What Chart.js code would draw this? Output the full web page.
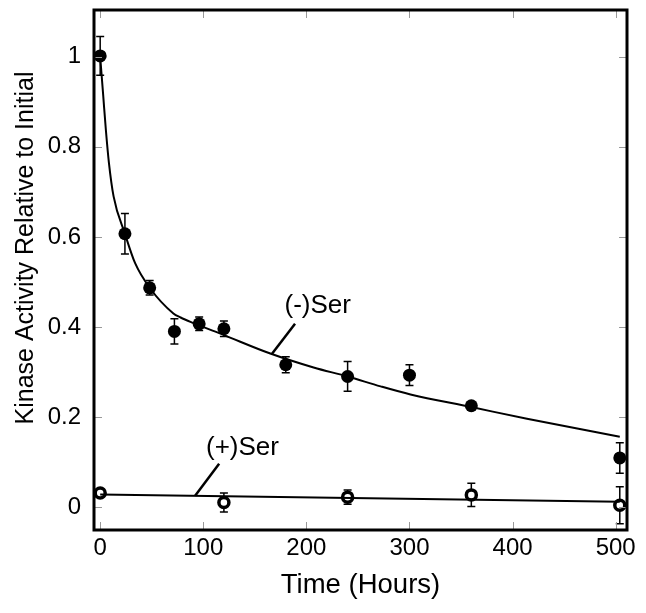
<!DOCTYPE html>
<html>
<head>
<meta charset="utf-8">
<script src="https://cdn.jsdelivr.net/npm/chart.js@4"></script>
<style>
  html, body { margin: 0; padding: 0; background: #fff; }
  #wrap { width: 646px; height: 613px; }
</style>
</head>
<body>
<div id="wrap"><canvas id="kinaseChart"></canvas></div>
<script>
// measured points, (-)Ser
const hours = [0, 24, 48, 72, 96, 120, 180, 240, 300, 360, 504];
const minusSer = [1.002, 0.607, 0.487, 0.390, 0.407, 0.396, 0.316, 0.290, 0.293, 0.225, 0.109];
const minusSerErr = [0.043, 0.045, 0.016, 0.028, 0.015, 0.017, 0.018, 0.033, 0.023, 0.005, 0.034];

// measured points, (+)Ser
const plusHours = [0, 120, 240, 360, 504];
const plusSer = [0.031, 0.010, 0.022, 0.027, 0.004];
const plusSerErr = [0.004, 0.021, 0.016, 0.026, 0.041];

// fitted curves
const fitHours = [0, 3, 5.5, 8.5, 13, 24, 34, 48, 71, 78, 90, 120, 165, 207, 240, 272, 301, 360, 414, 504];
const fitMinus = [1.0, 0.912, 0.838, 0.764, 0.690, 0.607, 0.541, 0.487, 0.430, 0.421, 0.409, 0.382, 0.341, 0.310, 0.290, 0.268, 0.250, 0.222, 0.196, 0.156];
const fitPlusHours = [0, 504];
const fitPlus = [0.028, 0.012];

// axis ticks
const xTicks = [0, 100, 200, 300, 400, 500];
const yTicks = [0, 0.2, 0.4, 0.6, 0.8, 1];

// labels with leader lines: text position, line start, line end (data units)
const labels = [
  { text: '(-)Ser', at: [211, 0.447], from: [189, 0.407], to: [166.5, 0.340] },
  { text: '(+)Ser', at: [138, 0.131], from: [115.4, 0.096], to: [92.1, 0.025] }
];

const FONT = "'Liberation Sans', Arial, Helvetica, sans-serif";

function pts(xs, ys) {
  return xs.map((x, i) => ({ x: x, y: ys[i] }));
}

// error bars, drawn under the markers
const errorBars = {
  id: 'errorBars',
  beforeDatasetsDraw(chart) {
    const { ctx, scales: { x, y } } = chart;
    const sets = [[hours, minusSer, minusSerErr], [plusHours, plusSer, plusSerErr]];
    ctx.save();
    ctx.strokeStyle = '#000';
    ctx.lineWidth = 1.5;
    sets.forEach(([xs, ys, es]) => {
      xs.forEach((h, i) => {
        const px = x.getPixelForValue(h);
        const top = y.getPixelForValue(ys[i] + es[i]);
        const bot = y.getPixelForValue(ys[i] - es[i]);
        ctx.beginPath();
        ctx.moveTo(px, top); ctx.lineTo(px, bot);
        ctx.moveTo(px - 4, top); ctx.lineTo(px + 4, top);
        ctx.moveTo(px - 4, bot); ctx.lineTo(px + 4, bot);
        ctx.stroke();
      });
    });
    ctx.restore();
  }
};

// box frame, inward ticks, y title, curve labels
const frame = {
  id: 'frame',
  afterDraw(chart) {
    const { ctx, chartArea: a, scales: { x, y } } = chart;
    ctx.save();
    ctx.strokeStyle = '#999';
    ctx.lineWidth = 1;
    x.ticks.forEach(t => {
      const px = Math.round(x.getPixelForValue(t.value)) + 0.5;
      ctx.beginPath();
      ctx.moveTo(px, a.bottom); ctx.lineTo(px, a.bottom - 8);
      ctx.moveTo(px, a.top); ctx.lineTo(px, a.top + 8);
      ctx.stroke();
    });
    y.ticks.forEach(t => {
      const py = Math.round(y.getPixelForValue(t.value)) + 0.5;
      ctx.beginPath();
      ctx.moveTo(a.left, py); ctx.lineTo(a.left + 8, py);
      ctx.moveTo(a.right, py); ctx.lineTo(a.right - 8, py);
      ctx.stroke();
    });

    ctx.strokeStyle = '#000';
    ctx.lineWidth = 3;
    ctx.strokeRect(a.left, a.top, a.right - a.left, a.bottom - a.top);

    // curve labels
    ctx.fillStyle = '#000';
    ctx.font = '26px ' + FONT;
    ctx.textAlign = 'center';
    ctx.textBaseline = 'middle';
    ctx.lineWidth = 2.5;
    labels.forEach(l => {
      ctx.fillText(l.text, x.getPixelForValue(l.at[0]), y.getPixelForValue(l.at[1]));
      ctx.beginPath();
      ctx.moveTo(x.getPixelForValue(l.from[0]), y.getPixelForValue(l.from[1]));
      ctx.lineTo(x.getPixelForValue(l.to[0]), y.getPixelForValue(l.to[1]));
      ctx.stroke();
    });

    // y axis title (sits above the axis centre in the original)
    ctx.font = '25px ' + FONT;
    ctx.translate(26, 248);
    ctx.rotate(-Math.PI / 2);
    ctx.fillText('Kinase Activity Relative to Initial', 0, 0);
    ctx.restore();
  }
};

const ctx = document.getElementById('kinaseChart').getContext('2d');
new Chart(ctx, {
  type: 'scatter',
  data: {
    datasets: [
      {
        data: pts(fitHours, fitMinus),
        showLine: true,
        cubicInterpolationMode: 'monotone',
        borderColor: '#000',
        borderWidth: 2,
        pointRadius: 0
      },
      {
        data: pts(fitPlusHours, fitPlus),
        showLine: true,
        borderColor: '#000',
        borderWidth: 2,
        pointRadius: 0
      },
      {
        data: pts(hours, minusSer),
        backgroundColor: '#000',
        borderColor: '#000',
        borderWidth: 0,
        pointRadius: 6.5
      },
      {
        data: pts(plusHours, plusSer),
        backgroundColor: '#fff',
        borderColor: '#000',
        borderWidth: 3.5,
        pointRadius: 5
      }
    ]
  },
  options: {
    responsive: true,
    maintainAspectRatio: false,
    animation: false,
    clip: false,
    layout: { padding: { top: 10, right: 19, left: 0, bottom: 0 } },
    plugins: {
      legend: { display: false },
      tooltip: { enabled: false }
    },
    scales: {
      x: {
        type: 'linear',
        min: -6,
        max: 511,
        grid: { display: false, drawTicks: false },
        border: { display: false },
        afterBuildTicks: s => { s.ticks = xTicks.map(v => ({ value: v })); },
        afterFit: s => {
          s.height = 83;
          s.paddingLeft = 0;
          s.paddingRight = 0;
        },
        ticks: {
          color: '#000',
          padding: 4,
          maxRotation: 0,
          font: { family: FONT, size: 24 }
        },
        title: {
          display: true,
          text: 'Time (Hours)',
          color: '#000',
          padding: { top: 0, bottom: 11 },
          font: { family: FONT, size: 27.5 }
        }
      },
      y: {
        type: 'linear',
        min: -0.051,
        max: 1.104,
        grid: { display: false, drawTicks: false },
        border: { display: false },
        afterBuildTicks: s => { s.ticks = yTicks.map(v => ({ value: v })); },
        afterFit: s => {
          s.width = 94;
          s.paddingTop = 0;
          s.paddingBottom = 0;
        },
        ticks: {
          color: '#000',
          padding: 13,
          font: { family: FONT, size: 24 },
          callback: v => (v === 0 || v === 1) ? String(v) : v.toFixed(1)
        }
      }
    }
  },
  plugins: [errorBars, frame]
});
</script>
</body>
</html>
